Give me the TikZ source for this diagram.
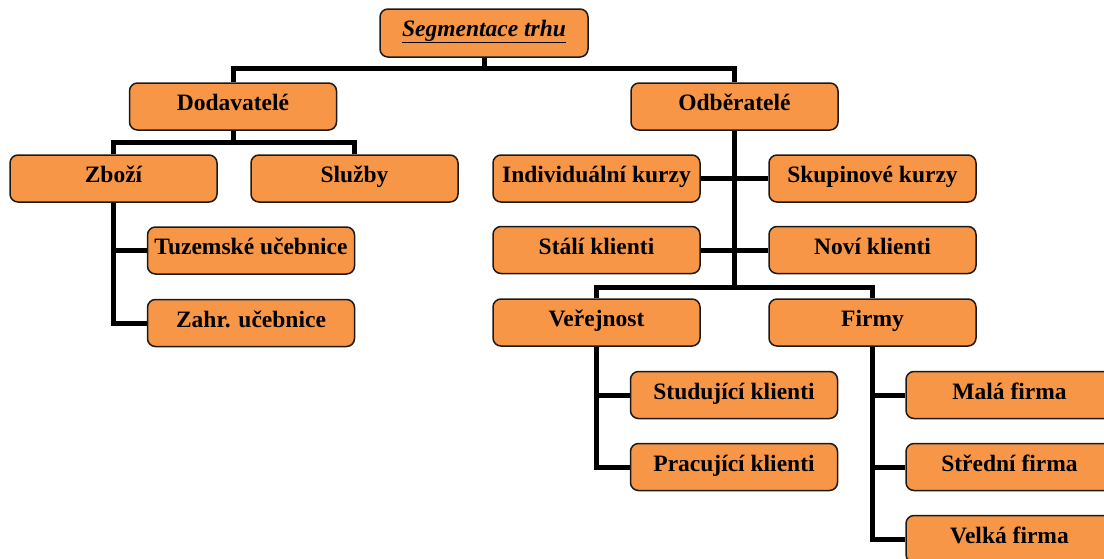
\documentclass[tikz,border=0pt]{standalone}
\usepackage{fontspec}
\setmainfont{Liberation Serif}
\usetikzlibrary{backgrounds}
\definecolor{boxfill}{HTML}{F79646}
\definecolor{boxline}{HTML}{1A1A1A}
\begin{document}
\begin{tikzpicture}[x=1pt,y=-1pt,
  box/.style={draw=boxline, line width=1.5pt, fill=boxfill, rounded corners=8pt,
    minimum width=207pt, minimum height=47pt, inner sep=0pt,
    text height=21pt, text depth=13pt,
    font=\fontsize{23.5}{28}\selectfont\bfseries},
  conn/.style={line width=5pt, line join=miter, draw=black}]
\useasboundingbox (0,0) rectangle (1104,558);
\clip (0,0) rectangle (1104,558);

% root
\node[box, minimum width=208pt, minimum height=48pt, text height=19pt, text depth=13pt] (root) at (484,33)
  {\itshape\underline{Segmentace trhu}};

% suppliers branch
\node[box] (dod)    at (233,106.5)   {Dodavatelé};
\node[box] (zbozi)  at (113.5,178.5) {Zboží};
\node[box] (sluzby) at (354.5,178.5) {Služby};
\node[box] (tuz)    at (251,250.5)   {Tuzemské učebnice};
\node[box] (zahr)   at (251,323)     {Zahr. učebnice};

% customers branch
\node[box] (odb)    at (734.5,106.5) {Odběratelé};
\node[box] (ind)    at (596.5,178.5) {Individuální kurzy};
\node[box] (skup)   at (872.5,178.5) {Skupinové kurzy};
\node[box] (stali)  at (596.5,250)   {Stálí klienti};
\node[box] (novi)   at (872.5,250)   {Noví klienti};
\node[box] (ver)    at (596.5,322.5) {Veřejnost};
\node[box] (firmy)  at (872.5,322.5) {Firmy};
\node[box] (stud)   at (734,395)     {Studující klienti};
\node[box] (prac)   at (734,467)     {Pracující klienti};
\node[box] (mala)   at (1009.5,395)  {Malá firma};
\node[box] (stred)  at (1009.5,467)  {Střední firma};
\node[box] (velka)  at (1009.5,539)  {Velká firma};

% bus junctions
\coordinate (busroot) at (484,68);
\coordinate (busdod)  at (233,142);
\coordinate (busodb)  at (734.5,287);

\begin{scope}[on background layer]
  \draw[conn] (root.south) -- (busroot);
  \draw[conn] (dod.north) |- (busroot) -| (odb.north);

  \draw[conn] (dod.south) -- (busdod);
  \draw[conn] (zbozi.north) |- (busdod) -| (sluzby.north);
  \draw[conn] (zbozi.south) |- (zahr.west);
  \draw[conn] (zbozi.south |- tuz.west) -- (tuz.west);

  \draw[conn] (odb.south) -- (busodb);
  \draw[conn] (ind.east) -- (skup.west);
  \draw[conn] (stali.east) -- (novi.west);
  \draw[conn] (ver.north) |- (busodb) -| (firmy.north);

  \draw[conn] (ver.south) |- (prac.west);
  \draw[conn] (ver.south |- stud.west) -- (stud.west);

  \draw[conn] (firmy.south) |- (velka.west);
  \draw[conn] (firmy.south |- mala.west) -- (mala.west);
  \draw[conn] (firmy.south |- stred.west) -- (stred.west);
\end{scope}
\end{tikzpicture}
\end{document}
